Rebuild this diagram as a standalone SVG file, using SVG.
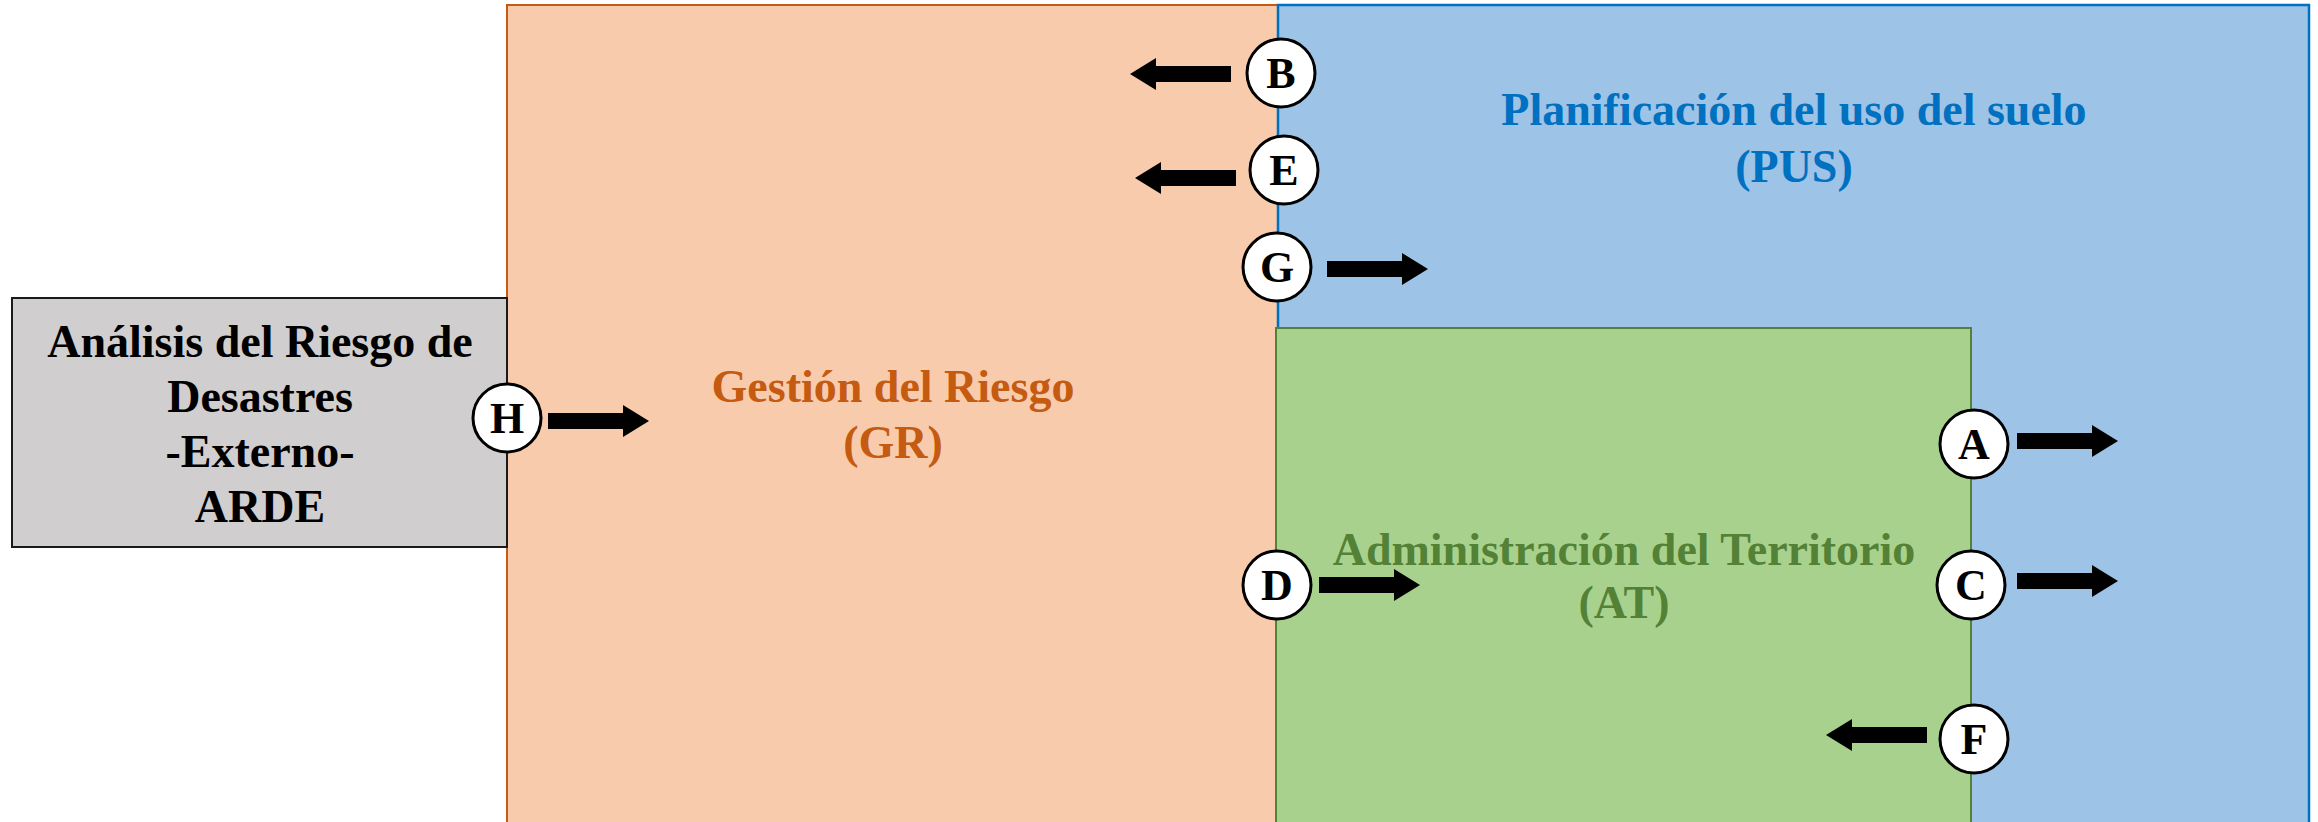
<svg xmlns="http://www.w3.org/2000/svg" width="2318" height="822" viewBox="0 0 2318 822">
<style>
.t{font-family:"Liberation Serif","Times New Roman",serif;font-weight:bold;font-size:46px;text-anchor:middle}
.lbl{font-family:"Liberation Serif","Times New Roman",serif;font-weight:bold;font-size:44px;text-anchor:middle;fill:#000}
.c{fill:#fff;stroke:#000;stroke-width:3}
.ar{fill:#000}
</style>
<defs>
<path id="arR" d="M0,-8 H75 V-16 L101,0 L75,16 V8 H0 Z"/>
</defs>
<g id="GR">
<rect x="507" y="5" width="771" height="830" fill="#f8cbad" stroke="#c55a11" stroke-width="2"/>
<text class="t" fill="#c55a11" x="893" y="402">Gestión del Riesgo</text>
<text class="t" fill="#c55a11" x="893" y="458">(GR)</text>
</g>
<g id="PUS">
<rect x="1278" y="5" width="1031" height="830" fill="#9dc3e6" stroke="#0070c0" stroke-width="2.5"/>
<text class="t" fill="#0070c0" x="1794" y="125">Planificación del uso del suelo</text>
<text class="t" fill="#0070c0" x="1794" y="182">(PUS)</text>
</g>
<g id="AT">
<rect x="1276" y="328" width="695" height="510" fill="#a9d18e" stroke="#538135" stroke-width="2"/>
<text class="t" fill="#538135" x="1624" y="565">Administración del Territorio</text>
<text class="t" fill="#538135" x="1624" y="618">(AT)</text>
</g>
<g id="ARDE">
<rect x="12" y="298" width="495" height="249" fill="#d0cece" stroke="#1a1a1a" stroke-width="2"/>
<text class="t" fill="#000" x="260" y="357">Análisis del Riesgo de</text>
<text class="t" fill="#000" x="260" y="412">Desastres</text>
<text class="t" fill="#000" x="260" y="467">-Externo-</text>
<text class="t" fill="#000" x="260" y="522">ARDE</text>
</g>
<g id="connectors">
<use href="#arR" class="ar" transform="translate(548,421)"/>
<use href="#arR" class="ar" transform="translate(1231,74) scale(-1,1)"/>
<use href="#arR" class="ar" transform="translate(1236,178) scale(-1,1)"/>
<use href="#arR" class="ar" transform="translate(1327,269)"/>
<use href="#arR" class="ar" transform="translate(1319,585)"/>
<use href="#arR" class="ar" transform="translate(2017,441)"/>
<use href="#arR" class="ar" transform="translate(2017,581)"/>
<use href="#arR" class="ar" transform="translate(1927,735) scale(-1,1)"/>
</g>
<g id="H"><circle class="c" cx="507" cy="418" r="34"/><text class="lbl" x="507" y="433">H</text></g>
<g id="B"><circle class="c" cx="1281" cy="73" r="34"/><text class="lbl" x="1281" y="88">B</text></g>
<g id="E"><circle class="c" cx="1284" cy="170" r="34"/><text class="lbl" x="1284" y="185">E</text></g>
<g id="G"><circle class="c" cx="1277" cy="267" r="34"/><text class="lbl" x="1277" y="282">G</text></g>
<g id="D"><circle class="c" cx="1277" cy="585" r="34"/><text class="lbl" x="1277" y="600">D</text></g>
<g id="A"><circle class="c" cx="1974" cy="444" r="34"/><text class="lbl" x="1974" y="459">A</text></g>
<g id="C"><circle class="c" cx="1971" cy="585" r="34"/><text class="lbl" x="1971" y="600">C</text></g>
<g id="F"><circle class="c" cx="1974" cy="739" r="34"/><text class="lbl" x="1974" y="754">F</text></g>
</svg>
